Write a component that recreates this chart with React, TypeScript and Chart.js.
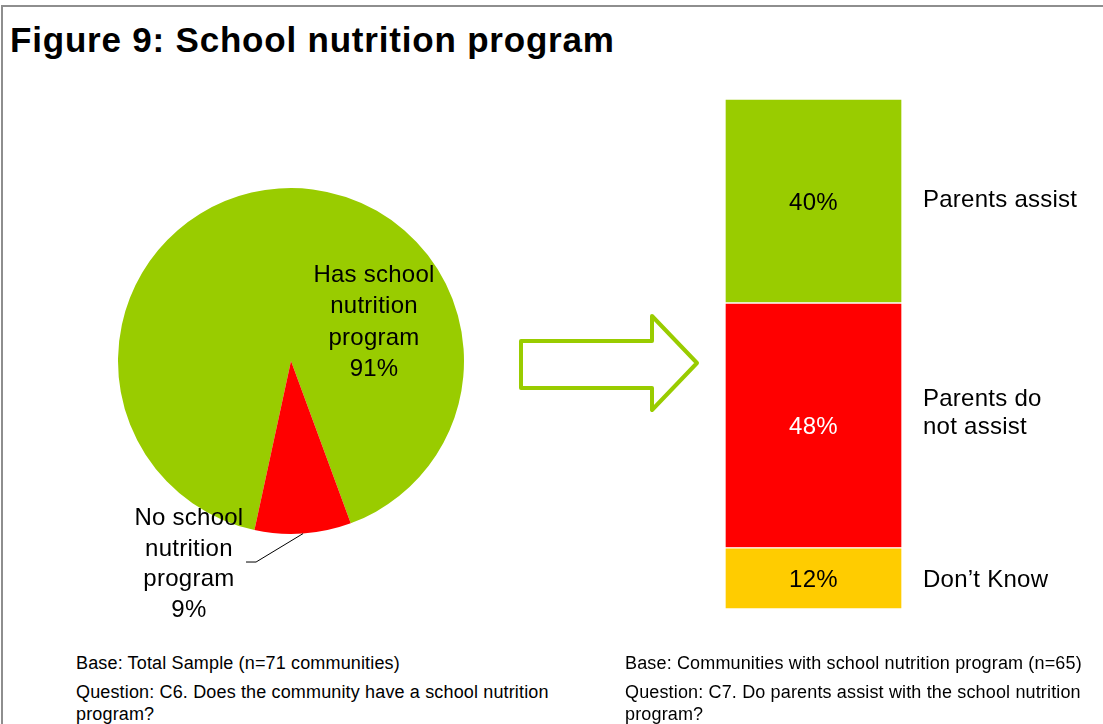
import React, { useEffect, useRef } from "react";
import { Chart, registerables } from "chart.js";

Chart.register(...registerables);

// ---------- data ----------
const pieCategories = ["Has school nutrition program", "No school nutrition program"];
const pieValues = [91, 9];
const pieLabelLines = [
  ["Has school", "nutrition", "program"],
  ["No school", "nutrition", "program"],
];

// stacked bottom -> top
const barCategories = ["Don’t Know", "Parents do not assist", "Parents assist"];
const barValues = [12, 48, 40];
const barLabelLines = [["Don’t Know"], ["Parents do", "not assist"], ["Parents assist"]];

const titleText = "Figure 9: School nutrition program";
const leftNotes = ["Base: Total Sample (n=71 communities)", "Question: C6. Does the community have a school nutrition", "program?"];
const rightNotes = ["Base: Communities with school nutrition program (n=65)", "Question: C7. Do parents assist with the school nutrition", "program?"];

// ---------- styles ----------
const GREEN = "#99CC00";
const RED = "#FF0000";
const YELLOW = "#FFCC00";
const pieColors = [GREEN, RED];
const barColors = [YELLOW, RED, GREEN];
const barValueColors = ["#000000", "#FFFFFF", "#000000"];
const barLabelShift = [0, -28, -3];
const FONT_FAMILY = '"Liberation Sans", Arial, Helvetica, sans-serif';
const LABEL_FONT = `24px ${FONT_FAMILY}`;
const LABEL_SPACING = "0.25px";

const pieLabelPlugin = {
  id: "pieLabels",
  afterDatasetsDraw(chart: any) {
    const ctx = chart.ctx as CanvasRenderingContext2D;
    const meta = chart.getDatasetMeta(0);
    const a0 = meta.data[0];
    const cx = a0.x, cy = a0.y, r = a0.outerRadius;
    ctx.save();
    ctx.font = LABEL_FONT;
    (ctx as any).letterSpacing = LABEL_SPACING;
    ctx.fillStyle = "#000";
    ctx.textAlign = "center";
    ctx.textBaseline = "alphabetic";
    const l0 = [...pieLabelLines[0], pieValues[0] + "%"];
    l0.forEach((t, i) => ctx.fillText(t, cx + 0.48 * r, cy - 0.457 * r + i * 31.3));
    const l1 = [...pieLabelLines[1], pieValues[1] + "%"];
    l1.forEach((t, i) => ctx.fillText(t, cx - 0.59 * r, cy + 0.948 * r + i * 30.6));
    // leader line
    const a1 = meta.data[1];
    const mid = (a1.startAngle + a1.endAngle) / 2;
    ctx.beginPath();
    ctx.strokeStyle = "#000";
    ctx.lineWidth = 1;
    ctx.moveTo(cx + r * Math.cos(mid), cy + r * Math.sin(mid));
    ctx.lineTo(cx - 0.202 * r, cy + 1.162 * r);
    ctx.lineTo(cx - 0.26 * r, cy + 1.162 * r);
    ctx.stroke();
    ctx.restore();
  },
};

const barLabelPlugin = {
  id: "barLabels",
  afterDatasetsDraw(chart: any) {
    const ctx = chart.ctx as CanvasRenderingContext2D;
    ctx.save();
    ctx.font = LABEL_FONT;
    (ctx as any).letterSpacing = LABEL_SPACING;
    ctx.textBaseline = "alphabetic";
    chart.data.datasets.forEach((ds: any, i: number) => {
      const el = chart.getDatasetMeta(i).data[0];
      const midY = (el.y + el.base) / 2;
      ctx.textAlign = "center";
      ctx.fillStyle = barValueColors[i];
      ctx.fillText(Math.round(ds.data[0]) + "%", el.x, midY + 8.5);
      ctx.textAlign = "left";
      ctx.fillStyle = "#000";
      barLabelLines[i].forEach((t, k) => {
        ctx.fillText(t, el.x + el.width / 2 + 21, midY + 8.5 + barLabelShift[i] + k * 28);
      });
    });
    ctx.restore();
  },
};

export default function App() {
  const pieRef = useRef<HTMLCanvasElement>(null);
  const barRef = useRef<HTMLCanvasElement>(null);

  useEffect(() => {
    document.body.style.margin = "0";
    const pie = new Chart(pieRef.current!, {
      type: "pie",
      data: {
        labels: pieCategories,
        datasets: [{ data: pieValues, backgroundColor: pieColors, borderWidth: 0 }],
      },
      options: {
        responsive: false,
        animation: false,
        rotation: 192.2,
        layout: { padding: { left: 18, top: 18, right: 36, bottom: 106 } },
        plugins: { legend: { display: false }, tooltip: { enabled: false } },
      },
      plugins: [pieLabelPlugin],
    });
    const bar = new Chart(barRef.current!, {
      type: "bar",
      data: {
        labels: ["C7"],
        datasets: barCategories.map((c, i) => ({
          label: c,
          data: [barValues[i]],
          backgroundColor: barColors[i],
          borderColor: "#FFFFFF",
          borderWidth: 1,
          borderSkipped: false,
          barPercentage: 1,
          categoryPercentage: 1,
        })),
      },
      options: {
        responsive: false,
        animation: false,
        layout: { padding: { left: 125, top: 39, right: 201, bottom: 51 } },
        scales: {
          x: { stacked: true, display: false },
          y: { stacked: true, display: false, min: 0, max: 100 },
        },
        plugins: { legend: { display: false }, tooltip: { enabled: false } },
      },
      plugins: [barLabelPlugin],
    });
    return () => {
      pie.destroy();
      bar.destroy();
    };
  }, []);

  const noteStyle: React.CSSProperties = {
    position: "absolute",
    fontSize: 18,
    lineHeight: "22px",
    letterSpacing: "0.15px",
    whiteSpace: "nowrap",
    color: "#000",
  };

  return (
    <div
      style={{
        position: "fixed",
        left: 0,
        top: 0,
        width: 1103,
        height: 724,
        overflow: "hidden",
        background: "#fff",
        fontFamily: FONT_FAMILY,
      }}
    >
      <div
        style={{
          position: "absolute",
          left: 1,
          top: 5,
          width: 1300,
          height: 900,
          borderTop: "2px solid #8e8e8e",
          borderLeft: "2px solid #8e8e8e",
        }}
      />
      <div
        style={{
          position: "absolute",
          left: 10,
          top: 22,
          fontSize: 35,
          lineHeight: "35px",
          fontWeight: "bold",
          letterSpacing: "0.8px",
          whiteSpace: "nowrap",
          color: "#000",
        }}
      >
        {titleText}
      </div>
      <svg
        width={1103}
        height={724}
        style={{ position: "absolute", left: 0, top: 0, pointerEvents: "none" }}
      >
        <polygon
          points="521,341 652,341 652,316 697,363 652,410 652,388 521,388"
          fill="none"
          stroke={GREEN}
          strokeWidth={4}
          strokeLinejoin="round"
        />
      </svg>
      <canvas
        ref={pieRef}
        width={400}
        height={470}
        style={{ position: "absolute", left: 100, top: 170, width: 400, height: 470 }}
      />
      <canvas
        ref={barRef}
        width={503}
        height={600}
        style={{ position: "absolute", left: 600, top: 60, width: 503, height: 600 }}
      />
      <div style={{ ...noteStyle, left: 76, top: 652 }}>{leftNotes[0]}</div>
      <div style={{ ...noteStyle, left: 76, top: 681 }}>
        {leftNotes[1]}
        <br />
        {leftNotes[2]}
      </div>
      <div style={{ ...noteStyle, left: 625, top: 652 }}>{rightNotes[0]}</div>
      <div style={{ ...noteStyle, left: 625, top: 681 }}>
        {rightNotes[1]}
        <br />
        {rightNotes[2]}
      </div>
    </div>
  );
}
